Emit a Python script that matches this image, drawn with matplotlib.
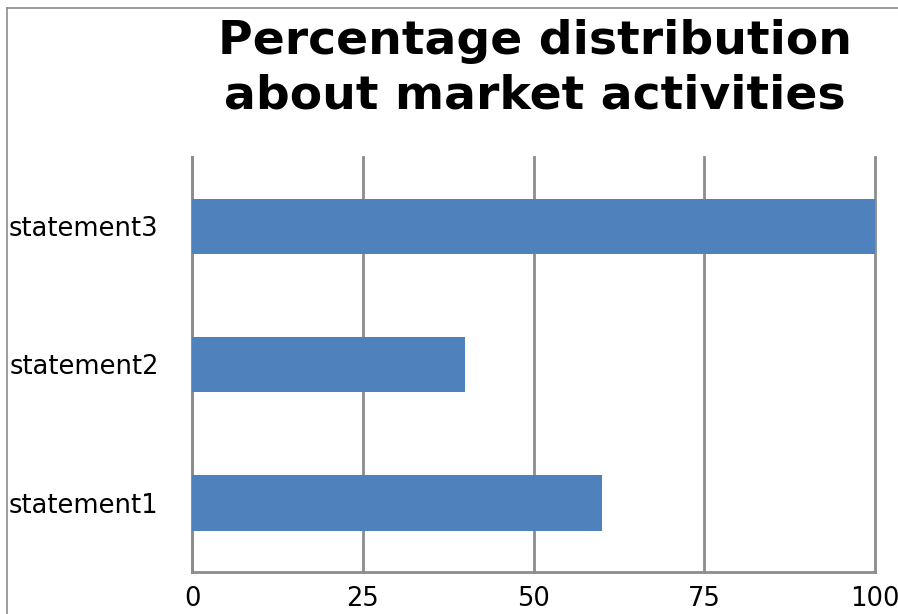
import matplotlib.pyplot as plt
from matplotlib.lines import Line2D

# data
categories = ['statement1', 'statement2', 'statement3']
values = [60, 40, 100]
ticks = [0, 25, 50, 75, 100]

bar_color = '#4F81BD'
grid_color = '#8C8C8C'

fig = plt.figure(figsize=(8.98, 6.14), dpi=100)
ax = fig.add_axes([192 / 898, 42 / 614, 683 / 898, 415 / 614])

ax.barh(range(len(categories)), values, height=0.4, color=bar_color, zorder=3)
ax.set_ylim(-0.5, 2.5)
ax.set_xlim(0, 100)
ax.set_xticks(ticks)
ax.set_xticklabels([str(t) for t in ticks], fontsize=18.5)
ax.set_yticks(range(len(categories)))
ax.set_yticklabels(categories, fontsize=18.5)
ax.tick_params(axis='both', length=0)
ax.tick_params(axis='x', pad=10)
ax.tick_params(axis='y', pad=24)
ax.xaxis.grid(True, color=grid_color, lw=2, zorder=0)
for gl in ax.get_xgridlines():
    gl.set_clip_on(False)

for side in ['top', 'right']:
    ax.spines[side].set_visible(False)
for side in ['left', 'bottom']:
    ax.spines[side].set_color(grid_color)
    ax.spines[side].set_linewidth(2)

# title
fig.text(535 / 898, 1 - 19 / 614, 'Percentage distribution\nabout market activities',
         ha='center', va='top', fontsize=34, fontweight='bold', linespacing=1.26)

# outer chart border (left and top edges visible)
fig.add_artist(Line2D([6.5 / 898, 6.5 / 898], [0, 1 - 8 / 614], color=grid_color, lw=1.2,
                      transform=fig.transFigure))
fig.add_artist(Line2D([6.5 / 898, 1], [1 - 8 / 614, 1 - 8 / 614], color=grid_color, lw=1.2,
                      transform=fig.transFigure))

fig.savefig('out.png', dpi=100)
